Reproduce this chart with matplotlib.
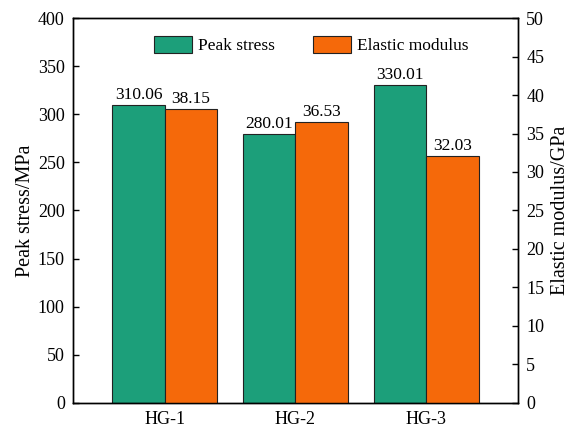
import numpy as np
import matplotlib
matplotlib.use("Agg")
import matplotlib.pyplot as plt

# data
samples = ["HG-1", "HG-2", "HG-3"]
peak_stress = [310.06, 280.01, 330.01]      # MPa
elastic_modulus = [38.15, 36.53, 32.03]     # GPa

plt.rcParams['font.family'] = ['Liberation Serif', 'DejaVu Serif']
plt.rcParams['font.size'] = 13

green = '#1c9f7a'
orange = '#f5690a'
w = 0.4

fig, ax = plt.subplots(figsize=(5.71, 4.30), dpi=100)
fig.subplots_adjust(left=0.128, right=0.907, top=0.958, bottom=0.063)
ax2 = ax.twinx()

x = np.arange(len(samples))
b1 = ax.bar(x - w / 2, peak_stress, w, color=green, edgecolor='#222222',
            linewidth=0.8, label='Peak stress')
b2 = ax2.bar(x + w / 2, elastic_modulus, w, color=orange, edgecolor='#222222',
             linewidth=0.8, label='Elastic modulus')

# value labels above the bars
for xi, v in zip(x, peak_stress):
    ax.text(xi - w / 2, v + 2, f"{v:.2f}", ha='center', va='bottom', fontsize=12.5)
for xi, v in zip(x, elastic_modulus):
    ax2.text(xi + w / 2, v + 0.25, f"{v:.2f}", ha='center', va='bottom', fontsize=12.5)

ax.set_xlim(-0.7, 2.7)
ax.set_ylim(0, 400)
ax2.set_ylim(0, 50)
ax.set_yticks(np.arange(0, 401, 50))
ax2.set_yticks(np.arange(0, 51, 5))
ax.set_xticks(x)
ax.set_xticklabels(samples)

ax.set_ylabel('Peak stress/MPa', fontsize=14.5, labelpad=2)
ax2.set_ylabel('Elastic modulus/GPa', fontsize=14.5, labelpad=5)

ax.tick_params(axis='y', direction='in', length=4, width=1, pad=6)
ax.tick_params(axis='x', length=0, pad=6)
ax2.tick_params(axis='y', direction='in', length=4, width=1, pad=6)
for a in (ax, ax2):
    for s in a.spines.values():
        s.set_linewidth(1.0)

ax.legend([b1, b2], ['Peak stress', 'Elastic modulus'], loc='center',
          ncol=2, frameon=False, handlelength=2.2, handleheight=1.2,
          handletextpad=0.35, columnspacing=2.2,
          bbox_to_anchor=(0.535, 0.93), fontsize=12.5)

fig.savefig('out.png', dpi=100)
